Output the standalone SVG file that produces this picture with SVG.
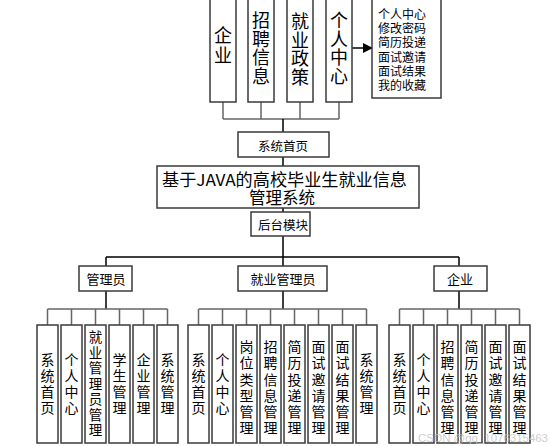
<svg xmlns="http://www.w3.org/2000/svg" width="551" height="446" viewBox="0 0 551 446">
<style>
.bx{fill:#fff;stroke:#3a3a3a;stroke-width:1.5}
.t{font-family:"Noto Sans CJK SC","Liberation Sans",sans-serif;fill:#000;text-anchor:middle;dominant-baseline:central}
.v{font-family:"Noto Sans CJK SC","Liberation Sans",sans-serif;fill:#000;text-anchor:middle;writing-mode:vertical-rl}
.top{font-size:18px}
.l4{font-size:14px;letter-spacing:2px}
.l6{font-size:14px;letter-spacing:2.2px}
.mid{font-size:13px}
.ln{fill:none;stroke:#000;stroke-width:1.5}
.lg{fill:none;stroke:#666;stroke-width:1.5}
</style>
<defs>
<marker id="ah" markerWidth="10" markerHeight="10" refX="9" refY="5" orient="auto" markerUnits="userSpaceOnUse">
<path d="M0,0 L10,5 L0,10 z" fill="#000"/>
</marker>
</defs>
<rect width="551" height="446" fill="#fff"/>
<g id="connectors">
<path class="lg" d="M223,102V119M261,102V119M300,102V119M339,102V119M223,119H339"/>
<path class="ln" d="M283,119V132M283,157V166M283,208V212M283,236V266M106,257H459M106,257V266M459,257V266"/>
<path class="ln" d="M352,48H372" marker-end="url(#ah)"/>
<path class="ln" d="M106,291V309M283,291V309M459,291V309"/>
<path class="lg" d="M47.5,309H167.5M47.5,309V325M71.5,309V325M95.5,309V325M119.5,309V325M143.5,309V325M167.5,309V325"/>
<path class="lg" d="M198.5,309H366.5M198.5,309V325M222.5,309V325M246.5,309V325M270.5,309V325M294.5,309V325M318.5,309V325M342.5,309V325M366.5,309V325"/>
<path class="lg" d="M399.5,309H519.5M399.5,309V325M423.5,309V325M447.5,309V325M471.5,309V325M495.5,309V325M519.5,309V325"/>
</g>
<g id="n-qiye-top"><rect class="bx" x="210" y="-10" width="26" height="112"/><text class="v top" x="223" y="46" style="letter-spacing:2px">企业</text></g>
<g id="n-zhaopin-top"><rect class="bx" x="248" y="-10" width="26" height="112"/><text class="v top" x="261" y="48.5" style="letter-spacing:0.6px">招聘信息</text></g>
<g id="n-zhengce-top"><rect class="bx" x="287" y="-10" width="26" height="112"/><text class="v top" x="300" y="49.5" style="letter-spacing:0.8px">就业政策</text></g>
<g id="n-geren-top"><rect class="bx" x="326" y="-10" width="26" height="112"/><text class="v top" x="339" y="48.5" style="letter-spacing:0.7px">个人中心</text></g>
<g id="n-list"><rect class="bx" x="372" y="-10" width="69" height="108"/><text class="t" style="font-size:12px;text-anchor:start"><tspan x="378" y="13">个人中心</tspan><tspan x="378" y="27.2">修改密码</tspan><tspan x="378" y="41.4">简历投递</tspan><tspan x="378" y="55.6">面试邀请</tspan><tspan x="378" y="69.8">面试结果</tspan><tspan x="378" y="84">我的收藏</tspan></text></g>
<g id="n-home"><rect class="bx" x="238" y="132" width="91" height="25"/><text class="t" style="font-size:12.5px" x="283" y="145">系统首页</text></g>
<g id="n-title"><rect class="bx" x="157" y="166" width="262" height="42"/><text class="t" style="font-size:16.5px" x="284.5" y="178.5" textLength="245" lengthAdjust="spacingAndGlyphs">基于JAVA的高校毕业生就业信息</text><text class="t" style="font-size:16.5px" x="282" y="197">管理系统</text></g>
<g id="n-backend"><rect class="bx" x="251" y="212" width="59" height="24"/><text class="t" style="font-size:12.5px" x="283" y="224.5">后台模块</text></g>
<g id="n-admin"><rect class="bx" x="79" y="266" width="53" height="25"/><text class="t mid" x="106" y="278.5">管理员</text></g>
<g id="n-jyadmin"><rect class="bx" x="238" y="266" width="89" height="25"/><text class="t mid" x="283" y="278.5">就业管理员</text></g>
<g id="n-company"><rect class="bx" x="434" y="266" width="53" height="25"/><text class="t mid" x="460" y="278.5">企业</text></g>
<g id="n-a1"><rect class="bx" x="37" y="325" width="21" height="118"/><text class="v l4" x="47.5" y="385">系统首页</text></g>
<g id="n-a2"><rect class="bx" x="61" y="325" width="21" height="118"/><text class="v l4" x="71.5" y="385">个人中心</text></g>
<g id="n-a3"><rect class="bx" x="85" y="325" width="21" height="118"/><text class="v" x="95.5" y="384.5" style="font-size:13.5px;letter-spacing:2px">就业管理员管理</text></g>
<g id="n-a4"><rect class="bx" x="109" y="325" width="21" height="118"/><text class="v l4" x="119.5" y="385">学生管理</text></g>
<g id="n-a5"><rect class="bx" x="133" y="325" width="21" height="118"/><text class="v l4" x="143.5" y="385">企业管理</text></g>
<g id="n-a6"><rect class="bx" x="157" y="325" width="21" height="118"/><text class="v l4" x="167.5" y="385">系统管理</text></g>
<g id="n-j1"><rect class="bx" x="188" y="325" width="21" height="118"/><text class="v l4" x="198.5" y="385">系统首页</text></g>
<g id="n-j2"><rect class="bx" x="212" y="325" width="21" height="118"/><text class="v l4" x="222.5" y="385">个人中心</text></g>
<g id="n-j3"><rect class="bx" x="236" y="325" width="21" height="118"/><text class="v l6" x="246.5" y="388.5">岗位类型管理</text></g>
<g id="n-j4"><rect class="bx" x="260" y="325" width="21" height="118"/><text class="v l6" x="270.5" y="388.5">招聘信息管理</text></g>
<g id="n-j5"><rect class="bx" x="284" y="325" width="21" height="118"/><text class="v l6" x="294.5" y="388.5">简历投递管理</text></g>
<g id="n-j6"><rect class="bx" x="308" y="325" width="21" height="118"/><text class="v l6" x="318.5" y="388.5">面试邀请管理</text></g>
<g id="n-j7"><rect class="bx" x="332" y="325" width="21" height="118"/><text class="v l6" x="342.5" y="388.5">面试结果管理</text></g>
<g id="n-j8"><rect class="bx" x="356" y="325" width="21" height="118"/><text class="v l4" x="366.5" y="385">系统管理</text></g>
<g id="n-c1"><rect class="bx" x="389" y="325" width="21" height="118"/><text class="v l4" x="399.5" y="385">系统首页</text></g>
<g id="n-c2"><rect class="bx" x="413" y="325" width="21" height="118"/><text class="v l4" x="423.5" y="385">个人中心</text></g>
<g id="n-c3"><rect class="bx" x="437" y="325" width="21" height="118"/><text class="v l6" x="447.5" y="388.5">招聘信息管理</text></g>
<g id="n-c4"><rect class="bx" x="461" y="325" width="21" height="118"/><text class="v l6" x="471.5" y="388.5">简历投递管理</text></g>
<g id="n-c5"><rect class="bx" x="485" y="325" width="21" height="118"/><text class="v l6" x="495.5" y="388.5">面试邀请管理</text></g>
<g id="n-c6"><rect class="bx" x="509" y="325" width="21" height="118"/><text class="v l6" x="519.5" y="388.5">面试结果管理</text></g>
<text x="418" y="442" font-family="Liberation Sans, sans-serif" font-size="11.5" fill="#c4c4c4" fill-opacity="0.85" textLength="130" lengthAdjust="spacingAndGlyphs">CSDN @qq_1076315463</text>
</svg>
